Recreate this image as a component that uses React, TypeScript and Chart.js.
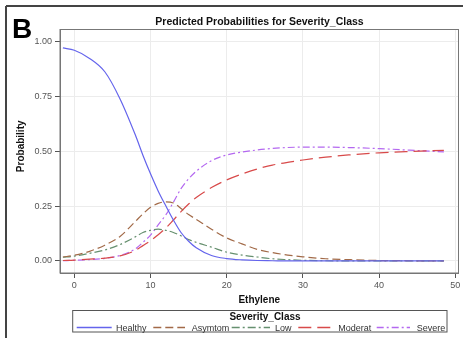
import React, { useEffect, useRef } from "react";
import { Chart, registerables } from "chart.js";

Chart.register(...registerables);

// ---- data ----
const ethylene = [-1.5, 0, 2, 4, 6, 8, 9, 10, 11, 12, 13, 14, 15, 16, 18, 20, 22, 24, 26, 28, 30, 33, 36, 40, 44, 48.5];
const healthy = [0.973, 0.962, 0.925, 0.864, 0.74, 0.576, 0.483, 0.398, 0.32, 0.252, 0.187, 0.13, 0.09, 0.06, 0.025, 0.011, 0.005, 0.002, 0.001, 0, 0, 0, 0, 0, 0, 0];
const asymtom = [0.018, 0.026, 0.044, 0.072, 0.112, 0.18, 0.215, 0.245, 0.263, 0.27, 0.265, 0.24, 0.212, 0.19, 0.145, 0.105, 0.078, 0.053, 0.038, 0.027, 0.019, 0.01, 0.006, 0.002, 0.001, 0];
const low = [0.017, 0.022, 0.035, 0.05, 0.075, 0.11, 0.13, 0.14, 0.145, 0.14, 0.13, 0.115, 0.098, 0.085, 0.063, 0.04, 0.027, 0.018, 0.01, 0.006, 0.003, 0.001, 0, 0, 0, 0];
const moderat = [0.002, 0.004, 0.008, 0.013, 0.023, 0.048, 0.07, 0.092, 0.12, 0.15, 0.187, 0.225, 0.26, 0.29, 0.335, 0.37, 0.397, 0.42, 0.438, 0.45, 0.461, 0.474, 0.484, 0.494, 0.5, 0.505];
const severe = [0.001, 0.003, 0.006, 0.012, 0.025, 0.055, 0.085, 0.118, 0.165, 0.21, 0.268, 0.33, 0.375, 0.41, 0.458, 0.484, 0.497, 0.507, 0.514, 0.518, 0.52, 0.52, 0.518, 0.513, 0.506, 0.498];

const seriesNames = ["Healthy", "Asymtom", "Low", "Moderat", "Severe"];
const seriesValues = [healthy, asymtom, low, moderat, severe];
const xTickValues = [0, 10, 20, 30, 40, 50];
const yTickValues = [0, 0.25, 0.5, 0.75, 1];

const colors = ["#6464ec", "#a26a48", "#66906f", "#d84a4a", "#b468f0"];
const dashes: number[][] = [[], [8, 4], [8, 3, 2, 3], [13, 6], [7, 3, 2, 3]];

const FONT = "Arial, 'Liberation Sans', sans-serif";

const frameBorder = {
  id: "frameBorder",
  afterDatasetsDraw(chart: any) {
    const { ctx, chartArea: a } = chart;
    ctx.save();
    ctx.strokeStyle = "#777";
    ctx.lineWidth = 1;
    ctx.strokeRect(a.left, a.top, a.right - a.left, a.bottom - a.top);
    ctx.restore();
  },
};

export default function App() {
  const ref = useRef<HTMLCanvasElement | null>(null);

  useEffect(() => {
    if (!ref.current) return;
    const chart = new Chart(ref.current, {
      type: "line",
      data: {
        datasets: seriesNames.map((name, i) => ({
          label: name,
          data: ethylene.map((x, j) => ({ x, y: seriesValues[i][j] })),
          borderColor: colors[i],
          borderWidth: 1.2,
          borderDash: dashes[i],
          pointRadius: 0,
          fill: false,
          cubicInterpolationMode: "monotone" as const,
        })),
      },
      plugins: [frameBorder],
      options: {
        animation: false,
        responsive: false,
        devicePixelRatio: 1,
        layout: { padding: { left: 0, right: 4.5, top: 29.5, bottom: 31 } },
        plugins: { legend: { display: false }, title: { display: false }, tooltip: { enabled: false } },
        scales: {
          x: {
            type: "linear",
            min: -1.88,
            max: 50.42,
            afterBuildTicks: (s: any) => {
              s.ticks = xTickValues.map((v) => ({ value: v }));
            },
            afterFit: (s: any) => {
              s.height = 34;
            },
            grid: { color: "#ececec", tickColor: "#555", tickLength: 5 },
            border: { color: "#777", width: 1 },
            ticks: {
              font: { family: FONT, size: 9 },
              color: "#555",
              padding: 2,
              maxRotation: 0,
              callback: (v: any) => String(v),
            },
            title: {
              display: true,
              text: "Ethylene",
              font: { family: FONT, size: 10, weight: "bold" },
              color: "#111",
              padding: { top: 0, bottom: 1 },
            },
          },
          y: {
            type: "linear",
            min: -0.055,
            max: 1.057,
            afterBuildTicks: (s: any) => {
              s.ticks = yTickValues.map((v) => ({ value: v }));
            },
            afterFit: (s: any) => {
              s.width = 60;
            },
            grid: { color: "#ececec", tickColor: "#555", tickLength: 5 },
            border: { color: "#777", width: 1 },
            ticks: {
              font: { family: FONT, size: 9 },
              color: "#555",
              padding: 3,
              callback: (v: any) => Number(v).toFixed(2),
            },
          },
        },
      },
    } as any);
    return () => chart.destroy();
  }, []);

  const legendItems = [
    { x1: 76.7, x2: 111.7, tx: 116 },
    { x1: 153.3, x2: 185, tx: 191.7 },
    { x1: 231.7, x2: 270, tx: 275 },
    { x1: 298.3, x2: 333.3, tx: 338.3 },
    { x1: 376.7, x2: 410, tx: 416.7 },
  ];

  return (
    <div style={{ position: "fixed", left: 0, top: 0, width: 463, height: 338, background: "#fff", overflow: "hidden" }}>
      <canvas ref={ref} width={463} height={338} style={{ position: "absolute", left: 0, top: 0, width: 463, height: 338 }} />
      <svg width={463} height={338} style={{ position: "absolute", left: 0, top: 0, pointerEvents: "none" }} fontFamily={FONT}>
        <line x1={6} y1={6} x2={463} y2={6} stroke="#444" strokeWidth={2} />
        <line x1={6} y1={6} x2={6} y2={338} stroke="#444" strokeWidth={2} />
        <text x={12} y={38} fontSize={28} fontWeight="bold" fill="#000">B</text>
        <text x={259.5} y={24.5} fontSize={10.5} fontWeight="bold" fill="#111" textAnchor="middle">
          Predicted Probabilities for Severity_Class
        </text>
        <text transform="translate(23.5,146.3) rotate(-90)" fontSize={10} fontWeight="bold" fill="#111" textAnchor="middle">
          Probability
        </text>
        <rect x={72.7} y={310.5} width={374.3} height={21.5} fill="none" stroke="#555" strokeWidth={1} />
        <text x={265} y={319.5} fontSize={10} fontWeight="bold" fill="#111" textAnchor="middle">
          Severity_Class
        </text>
        {legendItems.map((it, i) => (
          <g key={i}>
            <line x1={it.x1} y1={327.5} x2={it.x2} y2={327.5} stroke={colors[i]} strokeWidth={1.3} strokeDasharray={dashes[i].length ? dashes[i].join(" ") : undefined} />
            <text x={it.tx} y={330.5} fontSize={9} fill="#333">{seriesNames[i]}</text>
          </g>
        ))}
      </svg>
    </div>
  );
}
